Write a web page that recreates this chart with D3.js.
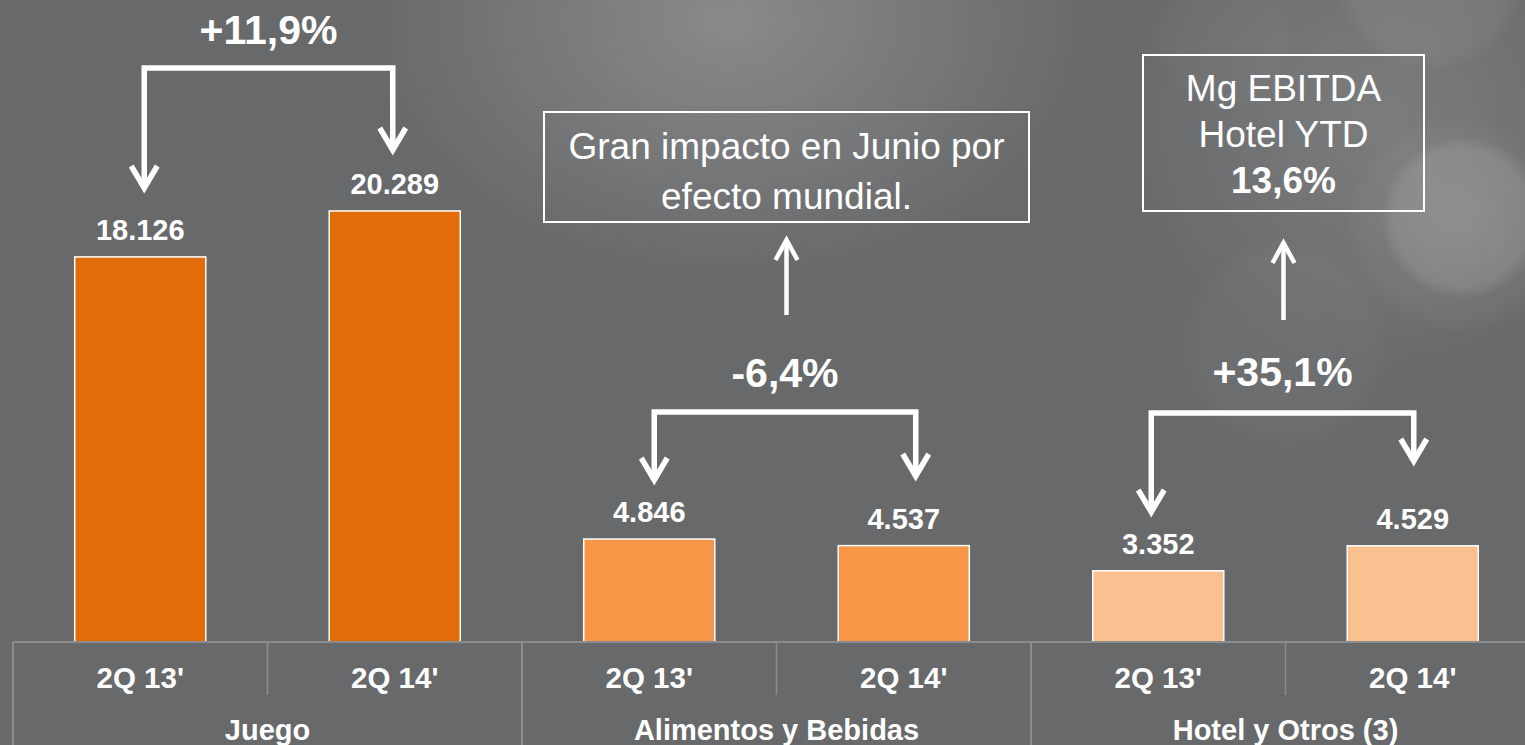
<!DOCTYPE html>
<html>
<head>
<meta charset="utf-8">
<script src="https://cdn.jsdelivr.net/npm/d3@7"></script>
<style>
  html, body { margin: 0; padding: 0; background: #68696b; }
  svg { display: block; font-family: "Liberation Sans", Arial, sans-serif; }
</style>
</head>
<body>
<svg id="chart" width="1525" height="745"></svg>
<script>
// data
const groups = ["Juego", "Alimentos y Bebidas", "Hotel y Otros (3)"];
const periods = ["2Q 13'", "2Q 14'"];
const values2Q13 = [18126, 4846, 3352];
const values2Q14 = [20289, 4537, 4529];
const groupColors = ["#e36c0a", "#f79646", "#fac090"];
const changeLabels = ["+11,9%", "-6,4%", "+35,1%"];
const noteFood = ["Gran impacto en Junio por", "efecto mundial."];
const noteHotel = ["Mg EBITDA", "Hotel YTD", "13,6%"];

const W = 1525, H = 745;
const baseY = 642;
const svg = d3.select("#chart");

// ---- background (grey with soft bokeh) ----
const defs = svg.append("defs");
const glow = defs.append("radialGradient").attr("id", "glow")
  .attr("cx", 0.5).attr("cy", 0.5).attr("r", 0.5);
glow.append("stop").attr("offset", "0%").attr("stop-color", "#8c8d8f").attr("stop-opacity", 0.9);
glow.append("stop").attr("offset", "100%").attr("stop-color", "#8c8d8f").attr("stop-opacity", 0);

const disc = defs.append("radialGradient").attr("id", "disc")
  .attr("cx", 0.5).attr("cy", 0.5).attr("r", 0.5);
disc.append("stop").attr("offset", "0%").attr("stop-color", "#ffffff").attr("stop-opacity", 0.18);
disc.append("stop").attr("offset", "85%").attr("stop-color", "#ffffff").attr("stop-opacity", 0.13);
disc.append("stop").attr("offset", "100%").attr("stop-color", "#ffffff").attr("stop-opacity", 0.02);

svg.append("rect").attr("width", W).attr("height", H).attr("fill", "#68696b");
svg.append("ellipse").attr("cx", 730).attr("cy", 20).attr("rx", 360).attr("ry", 260)
  .attr("fill", "url(#glow)");
svg.append("ellipse").attr("cx", 1380).attr("cy", 120).attr("rx", 260).attr("ry", 260)
  .attr("fill", "url(#glow)").attr("opacity", 0.6);

// bokeh circles [cx, cy, r, opacity]
const bokeh = [[1430, -25, 95, 0.4], [1455, 225, 108, 0.3], [1462, 218, 80, 0.85],
               [1285, 345, 105, 0.2], [1225, 40, 70, 0.15]];
svg.append("g").selectAll("circle").data(bokeh).join("circle")
  .attr("cx", d => d[0]).attr("cy", d => d[1]).attr("r", d => d[2])
  .attr("fill", "url(#disc)").attr("opacity", d => d[3]);

// ---- scales ----
const xGroup = d3.scaleBand().domain(groups).range([13, 1540]).padding(0);
const xPeriod = d3.scaleBand().domain(periods).range([0, xGroup.bandwidth()]).padding(0);
const y = d3.scaleLinear().domain([0, 30220]).range([baseY, 0]);
const fmt = d3.formatLocale({ decimal: ",", thousands: ".", grouping: [3], currency: ["", ""] }).format(",d");

const barW = xPeriod.bandwidth() * 0.515;
const rows = [];
groups.forEach((g, i) => {
  rows.push({ group: g, period: periods[0], value: values2Q13[i], color: groupColors[i] });
  rows.push({ group: g, period: periods[1], value: values2Q14[i], color: groupColors[i] });
});
const cx = d => xGroup(d.group) + xPeriod(d.period) + xPeriod.bandwidth() / 2;

// ---- bars ----
svg.append("g").selectAll("rect").data(rows).join("rect")
  .attr("x", d => cx(d) - barW / 2)
  .attr("y", d => y(d.value))
  .attr("width", barW)
  .attr("height", d => baseY - y(d.value))
  .attr("fill", d => d.color)
  .attr("stroke", "#ffffff").attr("stroke-width", 1.5);

svg.append("g").selectAll("text").data(rows).join("text")
  .attr("x", d => cx(d))
  .attr("y", d => y(d.value) - 17)
  .attr("text-anchor", "middle")
  .attr("fill", "#ffffff").attr("font-weight", "bold").attr("font-size", 29)
  .text(d => fmt(d.value));

// ---- category table ----
const grid = svg.append("g").attr("stroke", "#8b8c8e").attr("stroke-width", 2);
grid.append("line").attr("x1", 13).attr("x2", W).attr("y1", baseY).attr("y2", baseY);
groups.forEach(g => {
  const gx = xGroup(g);
  grid.append("line").attr("x1", gx).attr("x2", gx).attr("y1", baseY).attr("y2", H);
  const sx = gx + xPeriod(periods[1]);
  grid.append("line").attr("x1", sx).attr("x2", sx).attr("y1", baseY).attr("y2", 695)
    .attr("stroke-width", 1.5);
});

svg.append("g").selectAll("text").data(rows).join("text")
  .attr("x", d => cx(d)).attr("y", 688)
  .attr("text-anchor", "middle")
  .attr("fill", "#ffffff").attr("font-weight", "bold").attr("font-size", 29.5)
  .text(d => d.period);

svg.append("g").selectAll("text").data(groups).join("text")
  .attr("x", g => xGroup(g) + xGroup.bandwidth() / 2).attr("y", 740)
  .attr("text-anchor", "middle")
  .attr("fill", "#ffffff").attr("font-weight", "bold").attr("font-size", 29)
  .text(g => g);

// ---- change brackets ----
// per group: bracket top, left tip, right tip, x shifts, label baseline
const bracketTop = [68, 412, 413];
const tipLeft = [188, 480, 512];
const tipRight = [150, 476, 461];
const shiftX = [[4, -2], [5, 12], [-7, 1]];
const labelY = [44, 387, 386];

const arrows = svg.append("g").attr("fill", "none").attr("stroke", "#ffffff")
  .attr("stroke-width", 5.5).attr("stroke-linejoin", "miter");

function head(g, x, tip, dir, w, h) {
  g.append("path")
    .attr("d", `M${x - w},${tip - dir * h} L${x},${tip} L${x + w},${tip - dir * h}`);
}

groups.forEach((g, i) => {
  const xl = cx(rows[i * 2]) + shiftX[i][0];
  const xr = cx(rows[i * 2 + 1]) + shiftX[i][1];
  const t = bracketTop[i];
  arrows.append("path")
    .attr("d", `M${xl},${tipLeft[i] - 3} L${xl},${t} L${xr},${t} L${xr},${tipRight[i] - 3}`);
  head(arrows, xl, tipLeft[i], 1, 13, 22);
  head(arrows, xr, tipRight[i], 1, 13, 22);
  svg.append("text")
    .attr("x", (xl + xr) / 2).attr("y", labelY[i])
    .attr("text-anchor", "middle")
    .attr("fill", "#ffffff").attr("font-weight", "bold").attr("font-size", 41)
    .text(changeLabels[i]);
});

// ---- note boxes with up arrows ----
function note(lines, box, lineY, boldLast, arrowTip, arrowEnd) {
  const mid = box[0] + box[2] / 2;
  svg.append("rect").attr("x", box[0]).attr("y", box[1])
    .attr("width", box[2]).attr("height", box[3])
    .attr("fill", "none").attr("stroke", "#ffffff").attr("stroke-width", 2);
  svg.append("g").selectAll("text").data(lines).join("text")
    .attr("x", mid).attr("y", (d, k) => lineY[k])
    .attr("text-anchor", "middle").attr("fill", "#ffffff")
    .attr("font-size", 37)
    .attr("font-weight", (d, k) => boldLast && k === lines.length - 1 ? "bold" : "normal")
    .text(d => d);
  const up = svg.append("g").attr("fill", "none").attr("stroke", "#ffffff").attr("stroke-width", 4.5);
  up.append("path").attr("d", `M${mid},${arrowEnd} L${mid},${arrowTip + 3}`);
  head(up, mid, arrowTip, -1, 11, 20);
}

note(noteFood, [544, 112, 485, 110], [159, 209], false, 240, 315);
note(noteHotel, [1143, 55, 281, 156], [101, 147, 193], true, 243, 320);
</script>
</body>
</html>
